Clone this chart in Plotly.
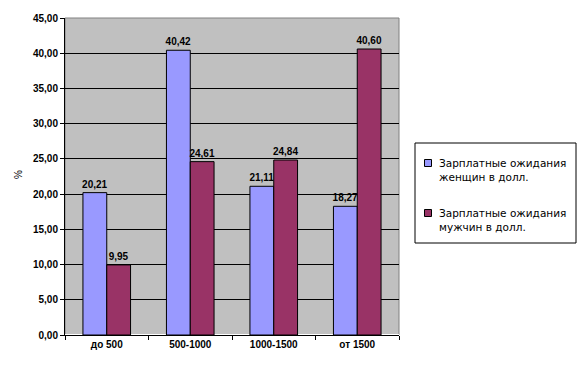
import plotly.graph_objects as go

categories = ["до 500", "500-1000", "1000-1500", "от 1500"]
women = [20.21, 40.42, 21.11, 18.27]
men = [9.95, 24.61, 24.84, 40.60]
series_names = ["Зарплатные ожидания<br>женщин в долл.", "Зарплатные ожидания<br>мужчин в долл."]
colors = ["#9999FF", "#993366"]
ytick_vals = [0, 5, 10, 15, 20, 25, 30, 35, 40, 45]

FONT = "Liberation Sans, Arial, sans-serif"
W, H = 585, 367
ML, MR, MT, MB = 65, 186, 18, 32
PW, PH = W - ML - MR, H - MT - MB


def px_x(px):
    return (px - ML) / PW


def px_y(py):
    return (H - MB - py) / PH


fig = go.Figure()
for vals, color in [(women, colors[0]), (men, colors[1])]:
    fig.add_trace(go.Bar(
        x=categories, y=vals, showlegend=False,
        marker=dict(color=color, line=dict(color="black", width=1)),
        texttemplate="<b>%{y:.2f}</b>", textposition="outside",
        textfont=dict(family=FONT, size=10, color="black"),
        constraintext="none", cliponaxis=False,
    ))

shapes = [dict(type="rect", xref="paper", yref="paper", x0=0, x1=1, y0=0, y1=1,
               line=dict(color="#808080", width=1), layer="below"),
          # legend box
          dict(type="rect", xref="paper", yref="paper",
               x0=px_x(415), x1=px_x(576), y0=px_y(243), y1=px_y(143),
               line=dict(color="black", width=1), fillcolor="white")]
annotations = []
for i, (name, color) in enumerate(zip(series_names, colors)):
    cy = 163 + i * 50
    shapes.append(dict(type="rect", xref="paper", yref="paper",
                       x0=px_x(424.5), x1=px_x(431.5), y0=px_y(cy + 3.5), y1=px_y(cy - 3.5),
                       line=dict(color="black", width=1), fillcolor=color))
    annotations.append(dict(text=name, xref="paper", yref="paper",
                            x=px_x(437), y=px_y(cy - 8), xanchor="left", yanchor="top",
                            align="left", showarrow=False,
                            font=dict(family="DejaVu Sans", size=10.5, color="black")))
annotations.append(dict(text="%", xref="paper", yref="paper", x=px_x(18), y=px_y(175),
                        xanchor="center", yanchor="middle", textangle=-90, showarrow=False,
                        font=dict(family=FONT, size=10, color="black")))

fig.update_layout(
    width=W, height=H,
    margin=dict(l=ML, r=MR, t=MT, b=MB),
    paper_bgcolor="white", plot_bgcolor="#C0C0C0",
    separators=",.",
    barmode="group", bargap=0.43, bargroupgap=0,
    font=dict(family=FONT, size=10, color="black"),
    showlegend=False,
    xaxis=dict(showline=True, linecolor="black", linewidth=1, automargin=False,
               ticks="outside", tickson="boundaries", ticklen=4, tickcolor="black",
               tickfont=dict(family=FONT, size=10, weight="bold"), showgrid=False),
    yaxis=dict(range=[0, 45], tickvals=ytick_vals, tickformat=".2f", automargin=False,
               showline=True, linecolor="black", linewidth=1,
               ticks="outside", ticklen=4, tickcolor="black",
               showgrid=True, gridcolor="black", gridwidth=1,
               tickfont=dict(family=FONT, size=10, weight="bold")),
    shapes=shapes,
    annotations=annotations,
)

fig.write_html("out.html")
